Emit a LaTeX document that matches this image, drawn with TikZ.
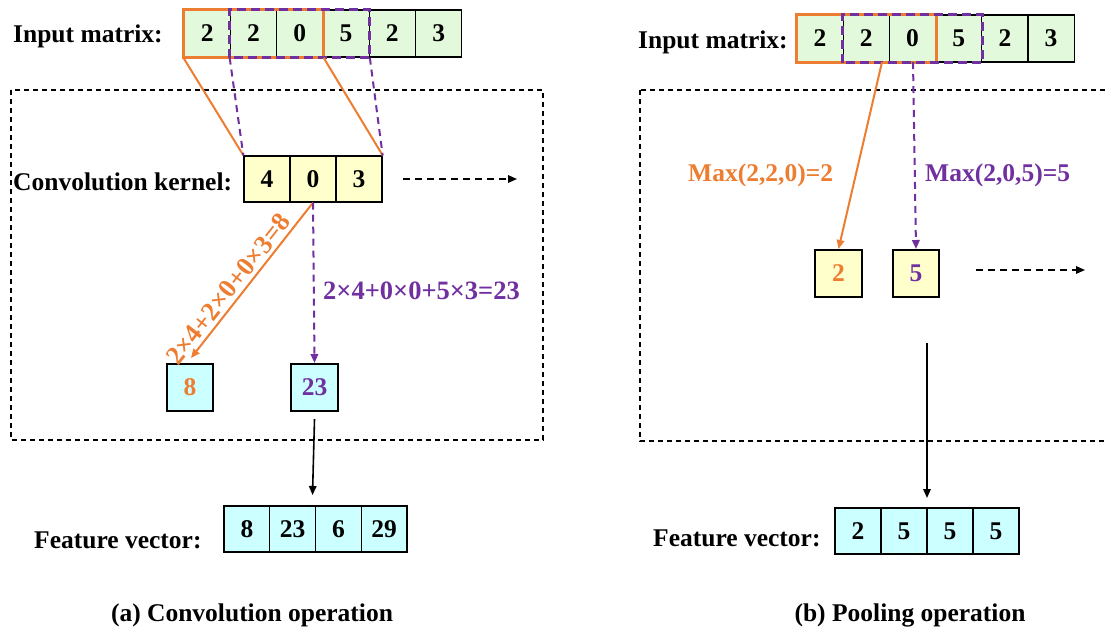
\documentclass[tikz,border=0pt]{standalone}
\usepackage{fontspec}
\setmainfont{Liberation Serif}
\usetikzlibrary{arrows.meta}
\definecolor{myorange}{HTML}{ED7D31}
\definecolor{mypurple}{HTML}{7030A0}
\definecolor{ingreen}{HTML}{E2FADB}
\definecolor{kyellow}{HTML}{FFFFCC}
\definecolor{fcyan}{HTML}{CCFFFF}
\begin{document}
\begin{tikzpicture}[x=1pt,y=-1pt,
  lbl/.style={font=\fontsize{25.5}{30}\selectfont\bfseries, inner sep=0pt},
  frm/.style={font=\fontsize{26.5}{30}\selectfont\bfseries, inner sep=0pt},
  cell/.style={draw=black, line width=1.3pt, inner sep=0pt, font=\fontsize{25.5}{30}\selectfont\bfseries, minimum width=46.3pt, minimum height=47pt},
  smallbox/.style={cell, line width=2pt, minimum width=46.5pt, minimum height=47pt},
  framebox/.style={draw=black, line width=1.1pt, dash pattern=on 5pt off 4pt},
  oline/.style={draw=myorange, line width=2pt},
  pline/.style={draw=mypurple, line width=2pt, dash pattern=on 7pt off 5pt},
  tip/.style={-{Triangle[length=9pt,width=7.5pt]}},
  darr/.style={draw=black, line width=1.6pt, dash pattern=on 7pt off 5pt, tip},
  barr/.style={draw=black, line width=1.6pt, tip}
]
\clip (0,0) rectangle (1107,630);
\fill[white] (0,0) rectangle (1107,630);

% ===== Left panel: convolution =====
\draw[framebox] (11,90) rectangle (543,440);
\node[lbl, anchor=base west] (lin) at (13,42) {Input matrix:};
\foreach \v [count=\i] in {2,2,0,5,2,3}
  \node[cell, fill=ingreen] (la\i) at ({184+46.3*(\i-0.5)},33.5) {\v};
\draw[myorange, line width=3pt] (la1.south west) rectangle (la3.north east);
\draw[mypurple, line width=3pt, dash pattern=on 9pt off 5pt] (la2.south west) rectangle (la4.north east);

\node[lbl, anchor=base west] (lker) at (13,190) {Convolution kernel:};
\foreach \v [count=\i] in {4,0,3}
  \node[cell, fill=kyellow, minimum width=46pt, minimum height=46pt] (k\i) at ({244+46*(\i-0.5)},179) {\v};

\draw[oline] (la1.south west) -- (k1.north west);
\draw[oline] (la3.south east) -- (k3.north east);
\draw[pline] (la2.south west) -- (k1.north west);
\draw[pline] (la4.south east) -- (k3.north east);

\coordinate (ldash1) at (403,179);
\coordinate (ldash2) at (517,179);
\draw[darr] (ldash1) -- (ldash2);

\node[smallbox, fill=fcyan, text=myorange] (c8) at (190,387.5) {8};
\node[smallbox, fill=fcyan, text=mypurple] (c23) at (314.5,387.5) {23};

\coordinate (c8tip) at (191,358);
\draw[oline, tip] (k2.south) -- (c8tip);
\path (c8tip) -- (k2.south) node[pos=0.39, sloped, above=4pt, frm, text=myorange] {2×4+2×0+0×3=8};
\draw[pline, tip] (k2.south) -- (c23.north);
\node[frm, anchor=base west, text=mypurple] (lform) at (323,299) {2×4+0×0+5×3=23};

\node[lbl, anchor=base west] (lfv) at (34,548) {Feature vector:};
\foreach \v [count=\i] in {8,23,6,29}
  \node[cell, fill=fcyan, minimum width=45.75pt, minimum height=46pt] (lf\i) at ({224+45.75*(\i-0.5)},529) {\v};
\coordinate (ldown) at (312.5,495);
\draw[barr] ([yshift=-7pt]c23.south) -- (ldown);

\node[lbl, anchor=base] (capa) at (252,621) {(a) Convolution operation};

% ===== Right panel: pooling =====
\draw[framebox] (640,90) rectangle (1120,441);
\node[lbl, anchor=base west] (rin) at (638,48.5) {Input matrix:};
\foreach \v [count=\i] in {2,2,0,5,2,3}
  \node[cell, fill=ingreen, minimum width=46.2pt] (ra\i) at ({797+46.2*(\i-0.5)},38.5) {\v};
\draw[myorange, line width=3pt] (ra1.south west) rectangle (ra3.north east);
\draw[mypurple, line width=3pt, dash pattern=on 9pt off 5pt] (ra2.south west) rectangle (ra4.north east);

\node[smallbox, fill=kyellow, text=myorange] (p2) at (838.5,273.5) {2};
\node[smallbox, fill=kyellow, text=mypurple] (p5) at (916,273.5) {5};

\coordinate (rofrom) at (882,62);
\coordinate (rpfrom) at (913,62);
\draw[oline, tip] (rofrom) -- (p2.north);
\draw[pline, tip] (rpfrom) -- (p5.north);
\node[lbl, anchor=base west, text=myorange] (m1) at (688,181.5) {Max(2,2,0)=2};
\node[lbl, anchor=base west, text=mypurple] (m2) at (925,181.5) {Max(2,0,5)=5};

\coordinate (rdash1) at (976,270);
\coordinate (rdash2) at (1085,270);
\draw[darr] (rdash1) -- (rdash2);

\coordinate (rdown1) at (927,343);
\coordinate (rdown2) at (927,498);
\draw[barr] (rdown1) -- (rdown2);

\node[lbl, anchor=base west] (rfv) at (653,546) {Feature vector:};
\foreach \v [count=\i] in {2,5,5,5}
  \node[cell, fill=fcyan, minimum width=46pt, minimum height=46pt] (rf\i) at ({835+46*(\i-0.5)},531) {\v};

\node[lbl, anchor=base] (capb) at (910,621) {(b) Pooling operation};
\end{tikzpicture}
\end{document}
